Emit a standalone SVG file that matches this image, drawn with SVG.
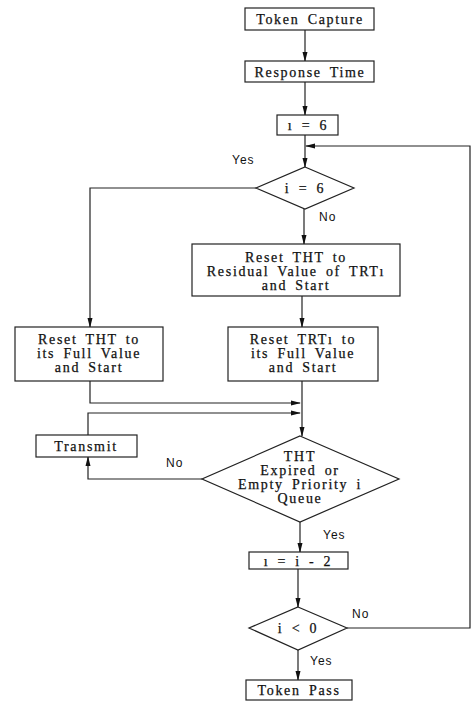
<svg xmlns="http://www.w3.org/2000/svg" width="473" height="706" viewBox="0 0 473 706">
<style>
.box{fill:#fff;stroke:#222;stroke-width:1.2}
.t{font-family:"Liberation Serif",serif;font-size:14px;letter-spacing:1.7px;word-spacing:3px;fill:#111;stroke:#111;stroke-width:0.25;text-anchor:middle}
.l{font-family:"Liberation Sans",sans-serif;font-size:12px;letter-spacing:1px;fill:#111}
.c{fill:none;stroke:#222;stroke-width:1.2}
</style>
<defs>
<marker id="a" markerWidth="10" markerHeight="6" refX="9" refY="3" orient="auto" markerUnits="userSpaceOnUse">
<path d="M0,0.5 L10,3 L0,5.5 Z" fill="#111"/>
</marker>
</defs>
<rect width="473" height="706" fill="#fff"/>
<g id="connectors">
<path class="c" d="M305,30 V61" marker-end="url(#a)"/>
<path class="c" d="M305,82 V115" marker-end="url(#a)"/>
<path class="c" d="M305,135 V167" marker-end="url(#a)"/>
<path class="c" d="M347,628 H470 V146 H306" marker-end="url(#a)"/>
<path class="c" d="M256,188 H90 V327" marker-end="url(#a)"/>
<path class="c" d="M304,209 V244" marker-end="url(#a)"/>
<path class="c" d="M302,296 V327" marker-end="url(#a)"/>
<path class="c" d="M90,381 V403 H300" marker-end="url(#a)"/>
<path class="c" d="M302,381 V436" marker-end="url(#a)"/>
<path class="c" d="M88,435 V413 H300" marker-end="url(#a)"/>
<path class="c" d="M202,479 H88 V457" marker-end="url(#a)"/>
<path class="c" d="M300,522 V552" marker-end="url(#a)"/>
<path class="c" d="M298,569 V607" marker-end="url(#a)"/>
<path class="c" d="M298,650 V680" marker-end="url(#a)"/>
</g>
<g id="token_capture"><rect class="box" x="245" y="8" width="129" height="22"/><text class="t" x="310" y="24">Token Capture</text></g>
<g id="response_time"><rect class="box" x="245" y="61" width="129" height="21"/><text class="t" x="310" y="76.5">Response Time</text></g>
<g id="i_eq_6_box"><rect class="box" x="277" y="115" width="61" height="20"/><text class="t" x="308" y="130">ı = 6</text></g>
<g id="i_eq_6_dec"><polygon class="box" points="305,167 354,188 305,209 256,188"/><text class="t" x="305" y="193">i = 6</text>
<text class="l" x="232" y="164">Yes</text><text class="l" x="319" y="221">No</text></g>
<g id="reset_residual"><rect class="box" x="192" y="244" width="208" height="52"/>
<text class="t" x="296" y="262">Reset THT to</text><text class="t" x="296" y="276">Residual Value of TRTı</text><text class="t" x="296" y="290">and Start</text></g>
<g id="reset_tht_full"><rect class="box" x="15" y="327" width="148" height="54"/>
<text class="t" x="89" y="344">Reset THT to</text><text class="t" x="89" y="358">its Full Value</text><text class="t" x="89" y="372">and Start</text></g>
<g id="reset_trti_full"><rect class="box" x="228" y="327" width="150" height="54"/>
<text class="t" x="303" y="344">Reset TRTı to</text><text class="t" x="303" y="358">its Full Value</text><text class="t" x="303" y="372">and Start</text></g>
<g id="transmit"><rect class="box" x="36" y="435" width="101" height="22"/><text class="t" x="86" y="451">Transmit</text></g>
<g id="tht_expired"><polygon class="box" points="300,436 399,479 300,522 202,479"/>
<text class="t" x="300" y="461">THT</text><text class="t" x="300" y="475">Expired or</text><text class="t" x="300" y="489">Empty Priority i</text><text class="t" x="300" y="503">Queue</text>
<text class="l" x="166" y="467">No</text><text class="l" x="323" y="539">Yes</text></g>
<g id="i_minus_2"><rect class="box" x="249" y="552" width="99" height="17"/><text class="t" x="298" y="565.5">ı = i - 2</text></g>
<g id="i_lt_0"><polygon class="box" points="298,607 347,628 298,650 249,628"/><text class="t" x="298" y="633">i &lt; 0</text>
<text class="l" x="352" y="618">No</text><text class="l" x="310" y="665">Yes</text></g>
<g id="token_pass"><rect class="box" x="246" y="680" width="106" height="20"/><text class="t" x="299" y="695">Token Pass</text></g>
</svg>
